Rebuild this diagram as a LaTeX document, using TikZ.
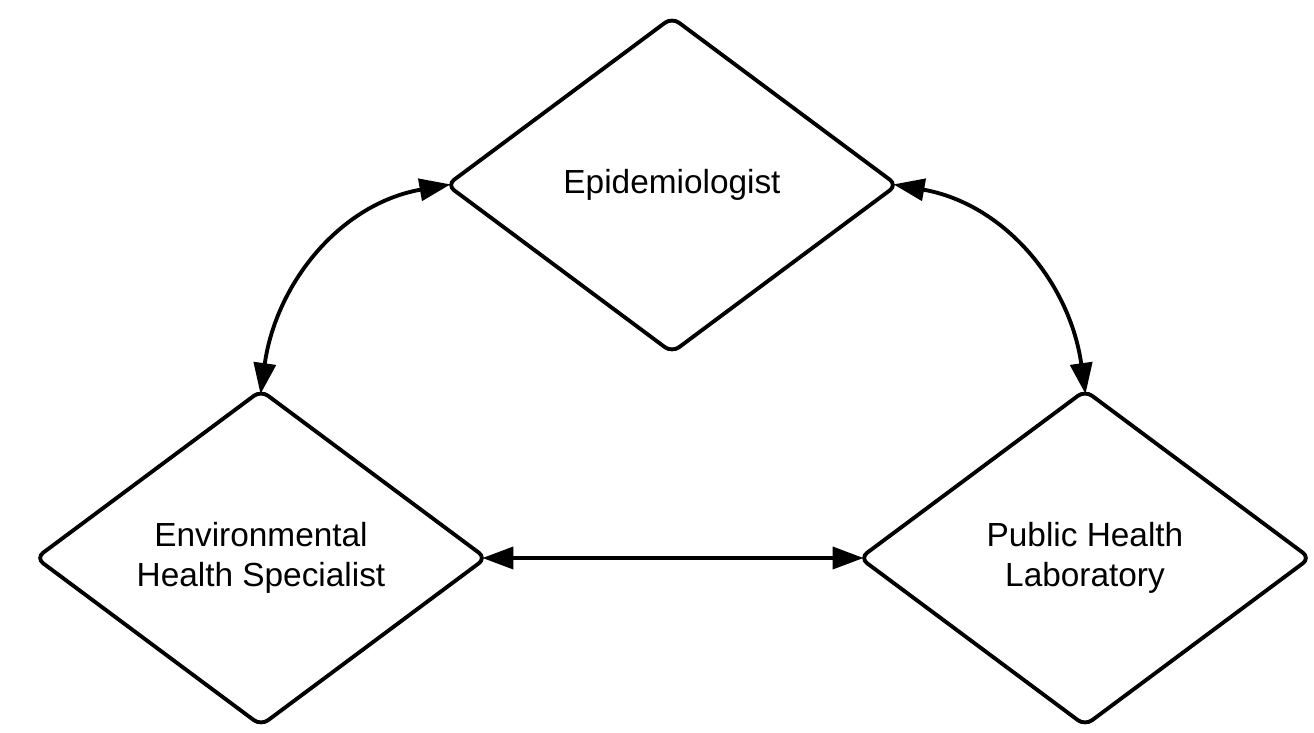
\documentclass[tikz,border=0pt]{standalone}
\usepackage{fontspec}
\setmainfont{Liberation Sans}
\usetikzlibrary{shapes.geometric,arrows.meta}

\begin{document}
\begin{tikzpicture}[x=0.02cm,y=-0.02cm,%
    role/.style={shape=diamond, draw, line width=2.2pt, rounded corners=5pt,%
      minimum width=9.0cm, minimum height=6.7cm, inner sep=0pt, outer sep=0pt,%
      align=center, font=\fontsize{19}{22.8}\selectfont},%
    link/.style={line width=2.2pt, shorten <=-2pt, shorten >=-2pt,%
      {Triangle[length=0.62cm,width=0.44cm]}-{Triangle[length=0.62cm,width=0.44cm]}}]
  \useasboundingbox (0,0) rectangle (1314,733);
  \node[role] (epi) at (672,185) {Epidemiologist};
  \node[role] (env) at (261,558) {Environmental\\Health Specialist};
  \node[role] (lab) at (1085,558) {Public Health\\Laboratory};
  % connectors
  \draw[link] (epi.west) to[out=190,in=82] (env.north);
  \draw[link] (epi.east) to[out=-10,in=98] (lab.north);
  \draw[link] (env.east) -- (lab.west);
\end{tikzpicture}
\end{document}
